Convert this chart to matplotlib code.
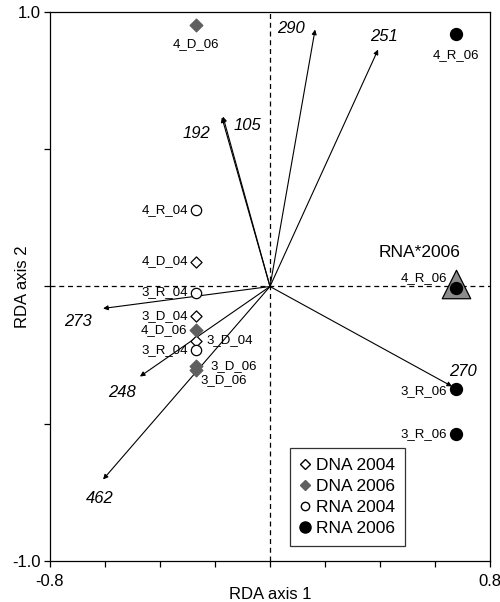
import matplotlib
matplotlib.use("Agg")
import matplotlib.pyplot as plt
from matplotlib.lines import Line2D

plt.rcParams['font.family'] = ['Liberation Sans', 'DejaVu Sans']

# ---- data ----
groups = ["DNA 2004", "DNA 2006", "RNA 2004", "RNA 2006"]

dna04_names = ["4_D_04", "3_D_04", "3_D_04"]
dna04_x = [-0.269, -0.269, -0.269]
dna04_y = [0.091, -0.106, -0.197]

dna06_names = ["4_D_06", "4_D_06", "3_D_06", "3_D_06"]
dna06_x = [-0.269, -0.269, -0.269, -0.269]
dna06_y = [0.954, -0.157, -0.291, -0.303]

rna04_names = ["4_R_04", "3_R_04", "3_R_04"]
rna04_x = [-0.269, -0.269, -0.269]
rna04_y = [0.277, -0.022, -0.233]

rna06_names = ["4_R_06", "4_R_06", "3_R_06", "3_R_06"]
rna06_x = [0.676, 0.676, 0.676, 0.676]
rna06_y = [0.918, -0.004, -0.375, -0.536]

species = ["290", "251", "192", "105", "273", "248", "462", "270"]
species_x = [0.164, 0.393, -0.175, -0.171, -0.607, -0.473, -0.607, 0.662]
species_y = [0.936, 0.863, 0.616, 0.619, -0.080, -0.328, -0.703, -0.364]

factor_name = "RNA*2006"
factor_x = 0.676
factor_y = 0.008

# ---- layout / style (offsets in pixels) ----
px = 0.72  # points per pixel at 100 dpi
dna04_off = [(-8, 0, 'right'), (-8, 0, 'right'), (10, 0, 'left')]
dna06_off = [(0, -19, 'center'), (-9, 0, 'right'), (14, 0, 'left'), (4, -10, 'left')]
rna04_off = [(-8, 0, 'right'), (-8, 0, 'right'), (-8, 0, 'right')]
rna06_off = [(0, -21, 'center'), (-9, 10, 'right'), (-9, -2, 'right'), (-9, 0, 'right')]
species_off = [(-24, 1), (6, 13), (-25, -16), (24, -9), (-25, -13), (-18, -16), (-3, -19), (11, 15)]

fig = plt.figure(figsize=(5.0, 6.02), dpi=100)
ax = fig.add_axes([0.1, 0.0681, 0.88, 0.912])
ax.set_xlim(-0.8, 0.8)
ax.set_ylim(-1.0, 1.0)

ax.axhline(0, color='black', lw=0.9, ls=(0, (4, 3)), zorder=1)
ax.axvline(0, color='black', lw=0.9, ls=(0, (4, 3)), zorder=1)

# species arrows
for name, sx, sy, (dx, dy) in zip(species, species_x, species_y, species_off):
    ax.annotate("", xy=(sx, sy), xytext=(0, 0),
                arrowprops=dict(arrowstyle='-|>', color='black', lw=0.8,
                                mutation_scale=7, shrinkA=0, shrinkB=0), zorder=2)
    ax.annotate(name, xy=(sx, sy), xytext=(dx * px, dy * px), textcoords='offset points',
                ha='center', va='center', fontsize=12, style='italic', zorder=5)

# factor triangle
ax.scatter([factor_x], [factor_y], marker='^', s=420, facecolor='#8c8c8c',
           edgecolor='black', linewidth=0.9, zorder=3)
ax.annotate(factor_name, xy=(factor_x, factor_y), xytext=(-36 * px, 32 * px),
            textcoords='offset points', ha='center', va='center', fontsize=12.5, zorder=5)

def plot_group(xs, ys, names, offs, marker, face, edge, size):
    ax.scatter(xs, ys, marker=marker, s=size, facecolor=face, edgecolor=edge,
               linewidth=0.9, zorder=4)
    for x, y, n, (dx, dy, ha) in zip(xs, ys, names, offs):
        ax.annotate(n, xy=(x, y), xytext=(dx * px, dy * px), textcoords='offset points',
                    ha=ha, va='center', fontsize=9.5, zorder=5)

plot_group(dna04_x, dna04_y, dna04_names, dna04_off, 'D', 'white', 'black', 32)
plot_group(dna06_x, dna06_y, dna06_names, dna06_off, 'D', '#5f5f5f', '#5f5f5f', 42)
plot_group(rna04_x, rna04_y, rna04_names, rna04_off, 'o', 'white', 'black', 55)
plot_group(rna06_x, rna06_y, rna06_names, rna06_off, 'o', 'black', 'black', 75)

# axes styling
ax.set_xticks([-0.8, -0.6, -0.4, -0.2, 0, 0.2, 0.4, 0.6, 0.8])
ax.set_xticklabels(['-0.8', '', '', '', '', '', '', '', '0.8'])
ax.set_yticks([-1.0, -0.5, 0, 0.5, 1.0])
ax.set_yticklabels(['-1.0', '', '', '', '1.0'])
ax.tick_params(direction='out', length=4, width=0.9, labelsize=12)
ax.tick_params(axis='y', pad=3)
ax.tick_params(axis='x', pad=5)
for sp in ax.spines.values():
    sp.set_linewidth(0.9)
ax.set_xlabel("RDA axis 1", fontsize=12)
ax.set_ylabel("RDA axis 2", fontsize=12)
ax.xaxis.set_label_coords(0.5, -0.048)
ax.yaxis.set_label_coords(-0.045, 0.5)

handles = [
    Line2D([], [], ls='', marker='D', markersize=5, markerfacecolor='white', markeredgecolor='black'),
    Line2D([], [], ls='', marker='D', markersize=5, markerfacecolor='#5f5f5f', markeredgecolor='#5f5f5f'),
    Line2D([], [], ls='', marker='o', markersize=6, markerfacecolor='white', markeredgecolor='black'),
    Line2D([], [], ls='', marker='o', markersize=8, markerfacecolor='black', markeredgecolor='black'),
]
leg = ax.legend(handles, groups, loc='lower left', bbox_to_anchor=(0.545, 0.027),
                fontsize=12.5, frameon=True, fancybox=False, edgecolor='black',
                handlelength=0.6, handletextpad=0.3, borderpad=0.6, labelspacing=0.33,
                borderaxespad=0)
leg.get_frame().set_linewidth(0.9)

fig.savefig("out.png", dpi=100)
